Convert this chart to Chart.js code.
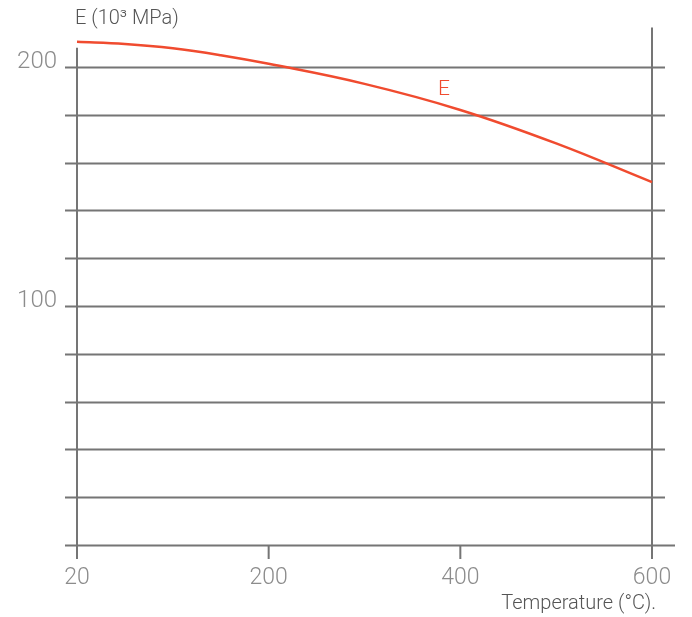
<!DOCTYPE html>
<html>
<head>
<meta charset="utf-8">
<script src="https://cdn.jsdelivr.net/npm/chart.js@4"></script>
<style>
  html, body { margin: 0; padding: 0; background: #fff; }
  #wrap { width: 692px; height: 617px; }
</style>
</head>
<body>
<div id="wrap"><canvas id="eChart"></canvas></div>
<script>
// temperature positions on the axis (the origin is labelled 20 °C)
const temps = [0, 50, 100, 150, 200, 300, 400, 500, 600];
// modulus of elasticity E, 10^3 MPa
const modulus = [210.5, 209.6, 207.8, 204.9, 201.3, 192.9, 182.0, 168.0, 151.8];
const xTicks = [0, 200, 400, 600];
const xTickLabels = ['20', '200', '400', '600'];
const yGrid = [0, 20, 40, 60, 80, 100, 120, 140, 160, 180, 200];
const yLabelled = [100, 200];

const gridColor = '#757575';
const lineColor = '#f04b2f';
const font = 'Roboto, "Open Sans", sans-serif';

// gridlines, axes and tick marks, drawn off the chart scales
const framePlugin = {
  id: 'frame',
  beforeDatasetsDraw(chart) {
    const { ctx, chartArea: a, scales: { x, y } } = chart;
    ctx.save();
    ctx.strokeStyle = gridColor;
    ctx.lineWidth = 2;
    yGrid.forEach(v => {
      const py = Math.round(y.getPixelForValue(v)) + 0.5;
      ctx.beginPath();
      ctx.moveTo(a.left - 12, py);
      ctx.lineTo(v === 0 ? a.right + 23 : a.right + 13, py);
      ctx.stroke();
    });
    // left and right verticals
    const lx = x.getPixelForValue(0), rx = x.getPixelForValue(600);
    ctx.beginPath();
    ctx.moveTo(lx, y.getPixelForValue(208));
    ctx.lineTo(lx, a.bottom + 14);
    ctx.moveTo(rx, y.getPixelForValue(216.5));
    ctx.lineTo(rx, a.bottom + 14);
    xTicks.forEach(t => {
      const px = x.getPixelForValue(t);
      ctx.moveTo(px, a.bottom);
      ctx.lineTo(px, a.bottom + 14);
    });
    ctx.stroke();
    ctx.restore();
  },
  afterDraw(chart) {
    const { ctx, scales: { x, y } } = chart;
    ctx.save();
    ctx.fillStyle = '#555';
    ctx.font = '300 20px ' + font;
    ctx.textBaseline = 'middle';
    ctx.textAlign = 'left';
    ctx.fillText('E (10³ MPa)', 75, 19);
    ctx.textAlign = 'right';
    ctx.fillText('Temperature (°C).', 656, 604);
    // series label
    ctx.fillStyle = lineColor;
    ctx.font = '300 21px ' + font;
    ctx.textAlign = 'center';
    ctx.fillText('E', x.getPixelForValue(383), y.getPixelForValue(190.5));
    ctx.restore();
  }
};

new Chart(document.getElementById('eChart').getContext('2d'), {
  type: 'line',
  data: {
    datasets: [{
      label: 'E',
      data: temps.map((t, i) => ({ x: t, y: modulus[i] })),
      borderColor: lineColor,
      borderWidth: 2.5,
      pointRadius: 0,
      tension: 0.4,
      clip: false
    }]
  },
  options: {
    responsive: true,
    maintainAspectRatio: false,
    animation: false,
    layout: { padding: { top: 43, right: 40, left: 0, bottom: 0 } },
    plugins: { legend: { display: false }, tooltip: { enabled: false } },
    scales: {
      x: {
        type: 'linear',
        min: 0,
        max: 600,
        afterBuildTicks: s => { s.ticks = xTicks.map(v => ({ value: v })); },
        afterFit: s => { s.height = 72; },
        grid: { display: false, drawTicks: false },
        border: { display: false },
        ticks: {
          padding: 19,
          color: '#8c8c8c',
          font: { family: font, size: 23, weight: 300 },
          maxRotation: 0,
          callback: v => xTickLabels[xTicks.indexOf(v)]
        }
      },
      y: {
        min: 0,
        max: 210,
        afterBuildTicks: s => { s.ticks = yGrid.map(v => ({ value: v })); },
        afterFit: s => { s.width = 77; },
        grid: { display: false, drawTicks: false },
        border: { display: false },
        ticks: {
          padding: 20,
          labelOffset: -5,
          color: '#8c8c8c',
          font: { family: font, size: 24, weight: 300 },
          callback: v => yLabelled.includes(v) ? String(v) : ''
        }
      }
    }
  },
  plugins: [framePlugin]
});
</script>
</body>
</html>
